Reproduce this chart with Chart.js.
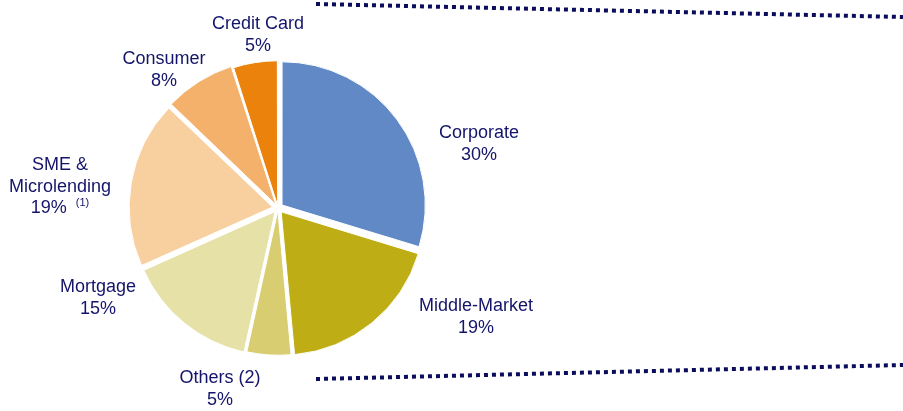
<!DOCTYPE html>
<html>
<head>
<meta charset="utf-8">
<script src="https://cdn.jsdelivr.net/npm/chart.js@4.4.0/dist/chart.umd.min.js"></script>
<style>
    html, body { margin: 0; padding: 0; background: #ffffff; }
    #wrap { width: 903px; height: 411px; position: relative; }
</style>
</head>
<body>
<div id="wrap"><canvas id="portfolio"></canvas></div>
<script>
const categories = ["Corporate", "Middle-Market", "Others (2)", "Mortgage", "SME & Microlending", "Consumer", "Credit Card"];
const shares = [30, 19, 5, 15, 19, 8, 5];
const labelLines = [["Corporate"], ["Middle-Market"], ["Others (2)"], ["Mortgage"], ["SME &", "Microlending"], ["Consumer"], ["Credit Card"]];
const footnotes = ["", "", "", "", "(1)", "", ""];

const sliceColors = ["#6189c6", "#bead15", "#d9cd72", "#e6e1a6", "#f8cf9e", "#f3b16c", "#eb820c"];
// chart.js pushes thin slices outwards too, so those get a smaller offset
const sliceOffsets = [20, 20, 10, 18, 22, 16, 10];
const textColor = "#14146a";
const dotColor = "#0c0c5c";

// where each label block sits, measured from the pie centre (first baseline)
const labelSpots = [[201, -70], [198, 103], [-58, 175], [-180, 84], [-218, -38], [-114, -144], [-20, -179]];
const lineStep = 21.5;

window.onload = function() {
    drawPie();
}

// text around the pie, placed off the centre of the arcs
var sliceLabels = {
    id: "sliceLabels",
    afterDatasetsDraw: function(chart) {
        var ctx = chart.ctx;
        var arcs = chart.getDatasetMeta(0).data;
        var cx = arcs[0].x;
        var cy = arcs[0].y;
        ctx.save();
        ctx.fillStyle = textColor;
        ctx.textBaseline = "alphabetic";
        for (var i = 0; i < shares.length; i++) {
            var x = cx + labelSpots[i][0];
            var y = cy + labelSpots[i][1];
            var lines = labelLines[i].slice();
            lines.push(shares[i] + "%");
            for (var j = 0; j < lines.length; j++) {
                var isLast = j == lines.length - 1;
                ctx.font = "18px 'Liberation Sans', Arial, sans-serif";
                if (isLast && footnotes[i] != "") {
                    var mainW = ctx.measureText(lines[j]).width;
                    ctx.font = "11px 'Liberation Sans', Arial, sans-serif";
                    var noteW = ctx.measureText(footnotes[i]).width;
                    var gap = 9;
                    var left = x - (mainW + gap + noteW) / 2;
                    ctx.textAlign = "left";
                    ctx.font = "18px 'Liberation Sans', Arial, sans-serif";
                    ctx.fillText(lines[j], left, y + j * lineStep);
                    ctx.font = "11px 'Liberation Sans', Arial, sans-serif";
                    ctx.fillText(footnotes[i], left + mainW + gap, y + j * lineStep - 7);
                } else {
                    ctx.textAlign = "center";
                    ctx.fillText(lines[j], x, y + j * lineStep);
                }
            }
        }
        ctx.restore();
    }
};

// the two dotted leader lines running off to the right
var leaderLines = {
    id: "leaderLines",
    afterDraw: function(chart) {
        var ctx = chart.ctx;
        var w = chart.width;
        ctx.save();
        ctx.strokeStyle = dotColor;
        ctx.lineWidth = 4;
        ctx.lineCap = "butt";
        ctx.setLineDash([4, 4]);
        ctx.beginPath();
        ctx.moveTo(316, 4);
        ctx.lineTo(w, 17);
        ctx.stroke();
        ctx.beginPath();
        ctx.moveTo(316, 379);
        ctx.lineTo(w, 365);
        ctx.stroke();
        ctx.restore();
    }
};

function drawPie() {
    var chart = document.getElementById("portfolio").getContext("2d");
    var pie = new Chart(chart, {
        type: "pie",
        data: {
            labels: categories,
            datasets: [{
                data: shares,
                backgroundColor: sliceColors,
                borderColor: "#ffffff",
                borderWidth: 1,
                offset: sliceOffsets,
                hoverOffset: 0
            }]
        },
        options: {
            responsive: true,
            maintainAspectRatio: false,
            animation: false,
            radius: 143,
            layout: {
                padding: { left: 0, right: 347, top: 5, bottom: 0 }
            },
            plugins: {
                legend: { display: false },
                tooltip: { enabled: false }
            }
        },
        plugins: [sliceLabels, leaderLines]
    });
}
</script>
</body>
</html>
